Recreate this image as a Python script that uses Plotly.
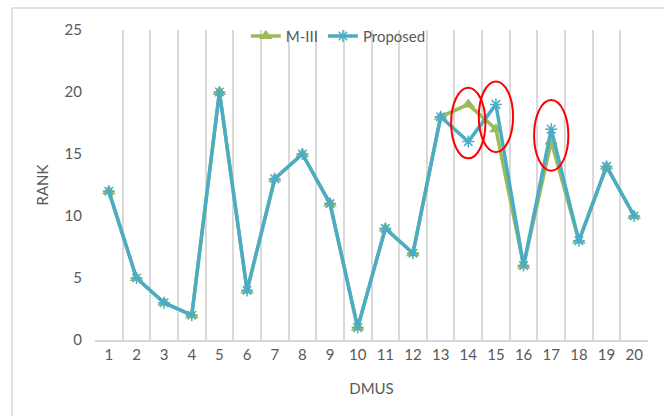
import plotly.graph_objects as go

# DMU rankings under the two methods
dmus = list(range(1, 21))
rank_m3 = [12, 5, 3, 2, 20, 4, 13, 15, 11, 1, 9, 7, 18, 19, 17, 6, 16, 8, 14, 10]
rank_proposed = [12, 5, 3, 2, 20, 4, 13, 15, 11, 1, 9, 7, 18, 16, 19, 6, 17, 8, 14, 10]
highlighted = [14, 15, 17]

GREEN = "#9BBB59"
BLUE = "#4BACC6"
GRID = "#D9D9D9"
TEXT = "#595959"
FONT = "Lato"

fig = go.Figure()
fig.add_trace(go.Scatter(
    x=dmus, y=rank_m3, name="M-III", mode="lines+markers",
    line=dict(color=GREEN, width=3.5),
    marker=dict(symbol="triangle-up", size=12, color=GREEN),
))
fig.add_trace(go.Scatter(
    x=dmus, y=rank_proposed, name="Proposed", mode="lines+markers",
    line=dict(color=BLUE, width=3.5),
    marker=dict(symbol="asterisk-open", size=10, line=dict(color=BLUE, width=1.5)),
))

# red ellipses around the DMUs where the two rankings differ
for d in highlighted:
    i = dmus.index(d)
    yc = (rank_m3[i] + rank_proposed[i]) / 2
    fig.add_shape(type="circle", xref="x", yref="y",
                  x0=d - 0.62, x1=d + 0.62, y0=yc - 2.85, y1=yc + 2.85,
                  line=dict(color="#FF0000", width=2))

# outer chart border
fig.add_shape(type="rect", xref="paper", yref="paper",
              x0=-0.150, x1=1.2, y0=-0.4, y1=1.071,
              line=dict(color=GRID, width=1.5), layer="below")

fig.update_layout(
    width=664, height=416,
    margin=dict(l=95, r=16, t=30, b=76),
    paper_bgcolor="white", plot_bgcolor="white",
    font=dict(family=FONT, size=15, color=TEXT),
    showlegend=True,
    legend=dict(orientation="h", x=0.44, xanchor="center", y=0.98, yanchor="middle",
                font=dict(family=FONT, size=15, color=TEXT), bgcolor="rgba(0,0,0,0)"),
    xaxis=dict(
        range=[0.5, 20.5], tickmode="linear", tick0=1, dtick=1,
        showgrid=False, zeroline=False,
        showline=True, linecolor=GRID, linewidth=1.5,
        ticks="", tickfont=dict(size=15, color=TEXT),
        minor=dict(tickmode="linear", tick0=0.5, dtick=1, showgrid=True,
                   gridcolor=GRID, gridwidth=1.5, ticks=""),
        title=dict(text="DMUS", font=dict(size=15, color=TEXT), standoff=22),
    ),
    yaxis=dict(
        range=[0, 25], tickmode="linear", tick0=0, dtick=5,
        showgrid=False, zeroline=False, showline=False,
        ticks="", ticklabelstandoff=12, tickfont=dict(size=15, color=TEXT),
        title=dict(text="RANK", font=dict(size=15, color=TEXT), standoff=12),
    ),
)

fig.write_html("out.html")
